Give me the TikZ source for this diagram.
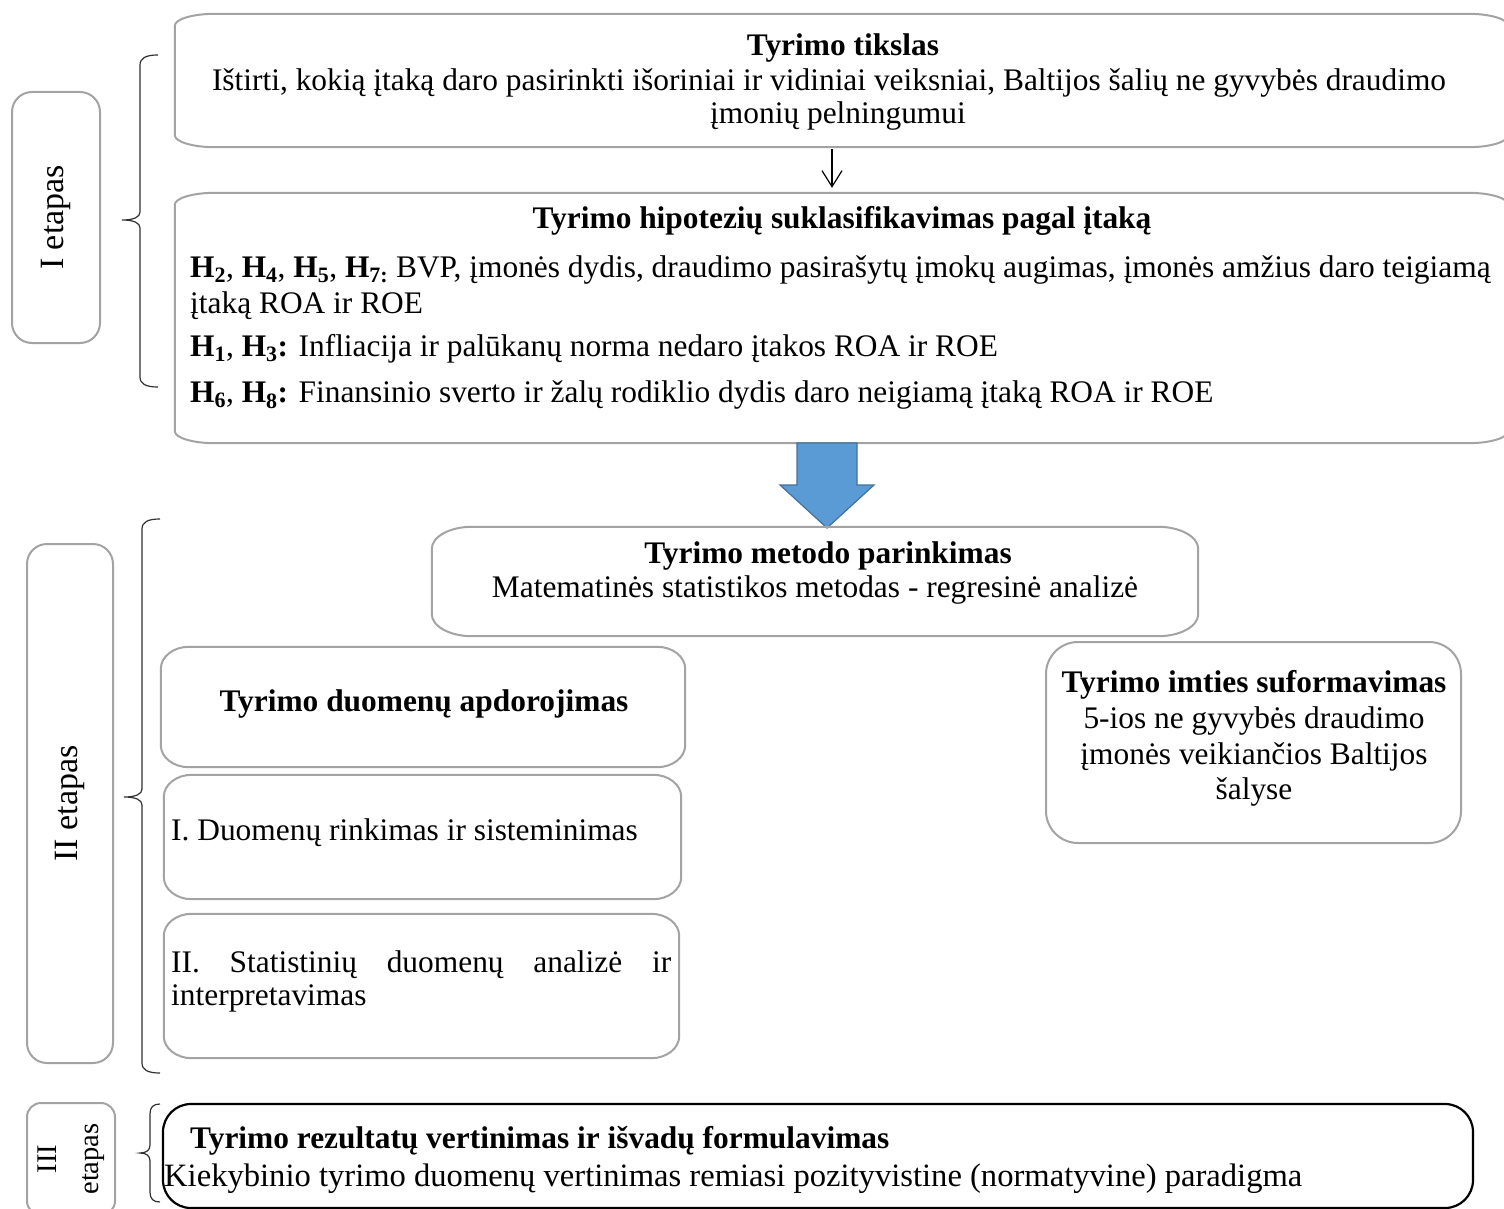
\documentclass[tikz,border=0pt]{standalone}
\usepackage{fontspec}
\setmainfont{Liberation Serif}
\usetikzlibrary{calc,arrows.meta}
\definecolor{boxgray}{HTML}{A3A3A3}
\definecolor{arrowfill}{HTML}{5B9BD5}
\definecolor{arrowedge}{HTML}{41719C}
\definecolor{bracecol}{HTML}{303030}
\newcommand\mainsize{\fontsize{31.4}{35}\selectfont}
\newcommand\widesize{\fontsize{32.6}{35}\selectfont}
\newcommand\labelsize{\fontsize{34}{40}\selectfont}
\newcommand\smallsize{\fontsize{28.5}{42}\selectfont}
\newcommand\Hs[1]{\textbf{H\textsubscript{#1}}}
% area node from pixel corners (y downwards)
\newcommand\area[5]{\node[inner sep=0pt, minimum width={#4-#2}, minimum height={#5-#3}] (#1) at ({(#2+#4)/2},{-(#3+#5)/2}) {};}
% bowed outline around a named node
\newcommand\bowbox[3]{%
\draw[boxline] ($(#1.north west)+(0,-#3)$) .. controls +(0,0.55*#3) and +(-0.55*#2,0) .. ($(#1.north west)+(#2,0)$)
 -- ($(#1.north east)+(-#2,0)$) .. controls +(0.55*#2,0) and +(0,0.55*#3) .. ($(#1.north east)+(0,-#3)$)
 -- ($(#1.south east)+(0,#3)$) .. controls +(0,-0.55*#3) and +(0.55*#2,0) .. ($(#1.south east)+(-#2,0)$)
 -- ($(#1.south west)+(#2,0)$) .. controls +(-0.55*#2,0) and +(0,-0.55*#3) .. ($(#1.south west)+(0,#3)$) -- cycle;}
% curly brace: x of hooks, y top, y bottom, y tip, width
\newcommand\stagebrace[5]{%
\draw[bracestyle] (#1,-#2) .. controls ({#1-#5/3},-#2) and ({#1-#5/2},{-#2-3}) .. ({#1-#5/2},{-#2-10})
 -- ({#1-#5/2},{-#4+8}) .. controls ({#1-#5/2},{-#4+3}) and ({#1-#5*2/3},-#4) .. ({#1-#5},-#4)
 .. controls ({#1-#5*2/3},-#4) and ({#1-#5/2},{-#4-3}) .. ({#1-#5/2},{-#4-8})
 -- ({#1-#5/2},{-#3+10}) .. controls ({#1-#5/2},{-#3+3}) and ({#1-#5/3},-#3) .. (#1,-#3);}
\begin{document}
\begin{tikzpicture}[x=1pt,y=1pt,
  every node/.style={font=\mainsize, inner sep=0pt},
  boxline/.style={draw=boxgray, line width=2pt},
  stagebox/.style={draw=boxgray, line width=2pt, rounded corners=20pt, rotate=90, align=center, font=\labelsize},
  bracestyle/.style={draw=bracecol, line width=1.2pt},
  thinarrow/.style={draw=black, line width=1.2pt, -{Straight Barb[length=16pt,width=20pt,line width=1.2pt]}},
  txt/.style={anchor=base},
  txtl/.style={anchor=base west}]
\useasboundingbox (0,0) rectangle (1504,-1209);
\clip (0,0) rectangle (1504,-1209);

% ---------- Stage I ----------
\node[stagebox, minimum width=251pt, minimum height=88pt] (s1) at (56,-217.5) {I etapas};
\stagebrace{158}{55}{387}{220}{36}

\area{goal}{175}{14}{1508}{147}
\bowbox{goal}{40}{12}
\node[txt] (goalh) at (843,-56) {\textbf{Tyrimo tikslas}};
\node[txt] (goal1) at (829,-91) {Ištirti, kokią įtaką daro pasirinkti išoriniai ir vidiniai veiksniai, Baltijos šalių ne gyvybės draudimo};
\node[txt] (goal2) at (838,-124) {įmonių pelningumui};

\area{hyp}{175}{193}{1508}{443}
\bowbox{hyp}{40}{12}
\draw[thinarrow] ([xshift=-9.5pt,yshift=-2pt]goal.south) -- ([xshift=-9.5pt,yshift=5pt]hyp.north);
\node[txt] (hyph) at (842,-229) {\textbf{Tyrimo hipotezių suklasifikavimas pagal įtaką}};
\node[txtl] (hyp1) at (190,-277) {\Hs{2}, \Hs{4}, \Hs{5}, \Hs{7:} BVP, įmonės dydis, draudimo pasirašytų įmokų augimas, įmonės amžius daro teigiamą};
\node[txtl] (hyp1b) at (190,-313) {įtaką ROA ir ROE};
\node[txtl] (hyp2) at (190,-356) {\Hs{1}, \Hs{3}\textbf{:} Infliacija ir palūkanų norma nedaro įtakos ROA ir ROE};
\node[txtl] (hyp3) at (190,-402) {\Hs{6}, \Hs{8}\textbf{:} Finansinio sverto ir žalų rodiklio dydis daro neigiamą įtaką ROA ir ROE};

% big blue arrow
\area{method}{432}{527}{1198}{636}
\fill[arrowfill, draw=arrowedge, line width=1.2pt] (797,-443) -- (857,-443) -- (857,-485) -- (874,-485) -- (827,-528) -- (780,-485) -- (797,-485) -- cycle;

% ---------- Stage II ----------
\node[stagebox, minimum width=519pt, minimum height=86pt] (s2) at (70,-803.5) {II etapas};
\stagebrace{160}{519}{1073}{797}{36}

\bowbox{method}{40}{22}
\node[txt] (methodh) at (828,-563) {\textbf{Tyrimo metodo parinkimas}};
\node[txt] (method1) at (815,-597) {Matematinės statistikos metodas - regresinė analizė};

\area{proc}{161}{647}{685}{767}
\bowbox{proc}{28}{22}
\node[txt] (proch) at (424,-711) {\textbf{Tyrimo duomenų apdorojimas}};

\area{collect}{164}{775}{681}{899}
\bowbox{collect}{28}{22}
\node[txtl] (collect1) at (171,-840) {I. Duomenų rinkimas ir sisteminimas};

\area{analyse}{164}{914}{679}{1058}
\bowbox{analyse}{28}{22}
\node[txtl] (analyse1) at (171,-972) {\hbox to 500pt{II.\hfill Statistinių\hfill duomenų\hfill analizė\hfill ir}};
\node[txtl] (analyse2) at (171,-1005) {interpretavimas};

\node[draw=boxgray, line width=2pt, rounded corners=32pt, minimum width=415pt, minimum height=201pt] (sample) at (1253.5,-742.5) {};
\node[txt] (sample1) at (1254,-692) {\textbf{Tyrimo imties suformavimas}};
\node[txt] (sample2) at (1254,-728) {5-ios ne gyvybės draudimo};
\node[txt] (sample3) at (1254,-764) {įmonės veikiančios Baltijos};
\node[txt] (sample4) at (1254,-799) {šalyse};

% ---------- Stage III ----------
\node[stagebox, rounded corners=14pt, minimum width=112pt, minimum height=88pt, font=\smallsize] (s3) at (71,-1159) {III\\etapas};
\stagebrace{160}{1104}{1202}{1153}{20}

\node[draw=black, line width=2.2pt, rounded corners=28pt, minimum width=1310pt, minimum height=104pt] (result) at (818,-1156) {};
\node[txtl] (resulth) at (190,-1148) {\textbf{Tyrimo rezultatų vertinimas ir išvadų formulavimas}};
\node[txtl, font=\widesize] (result1) at (164,-1186) {Kiekybinio tyrimo duomenų vertinimas remiasi pozityvistine (normatyvine) paradigma};
\end{tikzpicture}
\end{document}
